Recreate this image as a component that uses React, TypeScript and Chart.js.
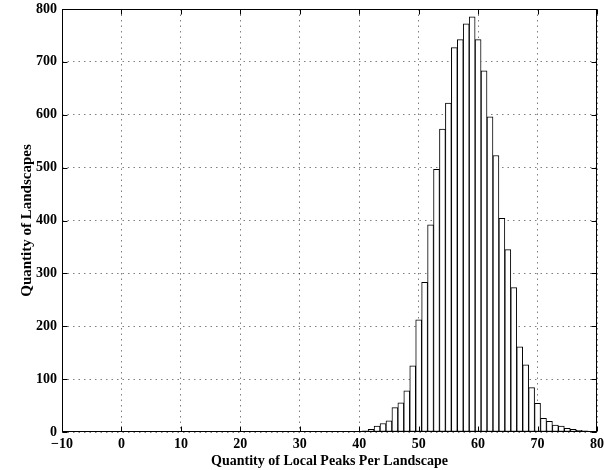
import { useEffect, useRef } from 'react';
import { Chart, registerables } from 'chart.js';

Chart.register(...registerables);

// Histogram: number of local peaks found per landscape (bin centre) and how many landscapes had it
const peakCounts = [
  40, 41, 42, 43, 44, 45, 46, 47, 48, 49,
  50, 51, 52, 53, 54, 55, 56, 57, 58, 59,
  60, 61, 62, 63, 64, 65, 66, 67, 68, 69,
  70, 71, 72, 73, 74, 75, 76, 77, 78, 79,
];
const landscapeCounts = [
  1, 2, 5, 11, 16, 21, 46, 55, 78, 125,
  212, 283, 392, 497, 573, 622, 727, 742, 772, 785,
  742, 683, 596, 523, 404, 345, 273, 161, 127, 84,
  54, 26, 20, 13, 11, 7, 5, 3, 2, 1,
];

const xTickValues = [-10, 0, 10, 20, 30, 40, 50, 60, 70, 80];
const yTickValues = [0, 100, 200, 300, 400, 500, 600, 700, 800];

const xTitle = 'Quantity of Local Peaks Per Landscape';
const yTitle = 'Quantity of Landscapes';

const FONT = '"Liberation Serif", "Times New Roman", serif';

// Box around the plot plus short inward tick marks on all four sides
const framePlugin = {
  id: 'frame',
  afterDatasetsDraw(chart: any) {
    const { ctx, chartArea, scales } = chart;
    const l = Math.round(chartArea.left) + 0.5;
    const r = Math.round(chartArea.right) - 0.5;
    const t = Math.round(chartArea.top) + 0.5;
    const b = Math.round(chartArea.bottom) - 0.5;
    const len = 5;
    ctx.save();
    ctx.strokeStyle = '#000';
    ctx.lineWidth = 1;
    ctx.beginPath();
    for (const v of xTickValues) {
      const px = Math.round(scales.x.getPixelForValue(v)) + 0.5;
      ctx.moveTo(px, b);
      ctx.lineTo(px, b - len);
      ctx.moveTo(px, t);
      ctx.lineTo(px, t + len);
    }
    for (const v of yTickValues) {
      const py = Math.round(scales.y.getPixelForValue(v)) + 0.5;
      ctx.moveTo(l, py);
      ctx.lineTo(l + len, py);
      ctx.moveTo(r, py);
      ctx.lineTo(r - len, py);
    }
    ctx.stroke();
    ctx.strokeRect(l, t, r - l, b - t);
    ctx.restore();
  },
};

export default function App() {
  const canvasRef = useRef<HTMLCanvasElement | null>(null);

  useEffect(() => {
    const canvas = canvasRef.current;
    if (!canvas) return;

    const chart = new Chart(canvas, {
      type: 'bar',
      data: {
        datasets: [
          {
            data: peakCounts.map((x, i) => ({ x, y: landscapeCounts[i] })),
            backgroundColor: '#ffffff',
            borderColor: '#000000',
            borderWidth: 1,
            borderSkipped: false,
            barPercentage: 1,
            categoryPercentage: 1,
          },
        ],
      },
      options: {
        animation: false,
        responsive: false,
        layout: { padding: { left: 0, top: 9, right: 7, bottom: 0 } },
        plugins: {
          legend: { display: false },
          tooltip: { enabled: false },
        },
        scales: {
          x: {
            type: 'linear',
            min: -10,
            max: 80,
            offset: false,
            afterBuildTicks: (scale: any) => {
              scale.ticks = xTickValues.map((value) => ({ value }));
            },
            afterFit: (scale: any) => {
              scale.height = 38;
              scale.paddingLeft = 0;
              scale.paddingRight = 0;
            },
            ticks: {
              color: '#000',
              padding: 4,
              maxRotation: 0,
              autoSkip: false,
              font: { family: FONT, size: 14, weight: 'bold' },
              callback: (v: any) => String(v).replace('-', '\u2212'),
            },
            grid: {
              offset: false,
              color: 'rgba(0,0,0,0.5)',
              lineWidth: 1,
              drawTicks: false,
            },
            border: { display: false, dash: [1.5, 4] },
            title: {
              display: true,
              text: xTitle,
              color: '#000',
              padding: { top: 0, bottom: 0 },
              font: { family: FONT, size: 14, weight: 'bold' },
            },
          },
          y: {
            type: 'linear',
            min: 0,
            max: 800,
            afterBuildTicks: (scale: any) => {
              scale.ticks = yTickValues.map((value) => ({ value }));
            },
            afterFit: (scale: any) => {
              scale.width = 62;
              scale.paddingTop = 0;
              scale.paddingBottom = 0;
            },
            ticks: {
              color: '#000',
              padding: 5,
              autoSkip: false,
              font: { family: FONT, size: 14, weight: 'bold' },
            },
            grid: {
              color: 'rgba(0,0,0,0.5)',
              lineWidth: 1,
              drawTicks: false,
            },
            border: { display: false, dash: [1.5, 4] },
            title: {
              display: true,
              text: yTitle,
              color: '#000',
              padding: { top: 18, bottom: 0 },
              font: { family: FONT, size: 15, weight: 'bold' },
            },
          },
        },
      },
      plugins: [framePlugin],
    } as any);

    return () => chart.destroy();
  }, []);

  return (
    <div style={{ position: 'fixed', left: 0, top: 0, width: 604, height: 470, background: '#fff' }}>
      <canvas ref={canvasRef} width={604} height={470} style={{ display: 'block' }} />
    </div>
  );
}
